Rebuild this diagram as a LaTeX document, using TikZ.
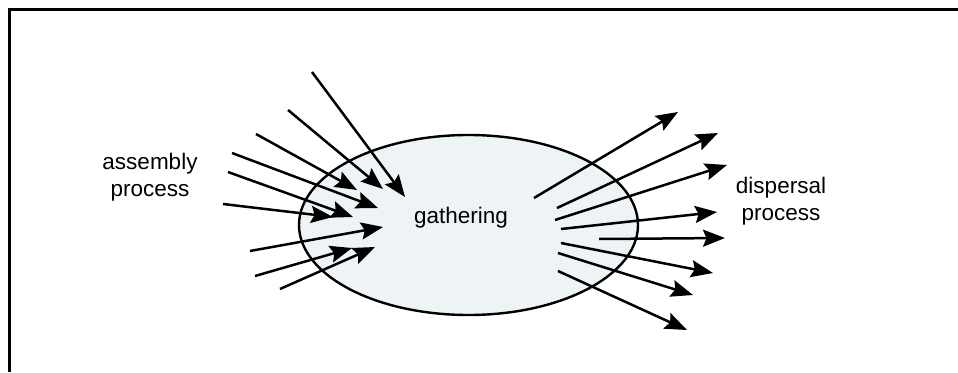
\documentclass[tikz,border=0pt]{standalone}
\usepackage{fontspec}
\setmainfont{Liberation Sans}
\usetikzlibrary{arrows.meta,shapes.geometric}
\definecolor{cloudfill}{HTML}{EEF3F6}
\tikzset{
  flow/.style={line width=2.5pt,-{Stealth[length=22pt,width=17pt,inset=3.5pt]}},
  label/.style={font=\fontsize{22.5}{26.5}\selectfont,align=center,inner sep=0pt},
  frame/.style={line width=2.6pt}
}
\begin{document}
\begin{tikzpicture}[x=1pt,y=-1pt]
\useasboundingbox (0,0) rectangle (958,372);
\draw[frame] (958,9.5) -- (9.5,9.5) -- (9.5,372);
\node[ellipse,draw,line width=2.4pt,fill=cloudfill,minimum width=339pt,minimum height=180pt,inner sep=0pt] (cloud) at (468.5,225) {};
\node[label,anchor=base] (gath) at (461,223) {gathering};
\node[label] (asm) at (150,177) {assembly\\process};
\node[label] (disp) at (781,201) {dispersal\\process};
% incoming arrows
\foreach \i/\sx/\sy/\ex/\ey in {
  a/312/72/405/197, b/288/110/383/189, c/256/134/357/190,
  d/232/153/378/208, e/228/172/353/217, f/223/204/333/217,
  g/250/251/383/227, h/255/276/352/248, k/280/289/375/247}{
  \coordinate (in\i s) at (\sx,\sy);
  \coordinate (in\i e) at (\ex,\ey);
  \draw[flow] (in\i s) -- (in\i e);
}
% outgoing arrows
\foreach \i/\sx/\sy/\ex/\ey in {
  a/534/198/678/112, b/557/208/718/133, c/555/220/727/165,
  d/561/229/717/212, e/599/239/725/238, f/561/243/713/273,
  g/558/253/693/295, h/558/271/687/330}{
  \coordinate (out\i s) at (\sx,\sy);
  \coordinate (out\i e) at (\ex,\ey);
  \draw[flow] (out\i s) -- (out\i e);
}
\end{tikzpicture}
\end{document}
